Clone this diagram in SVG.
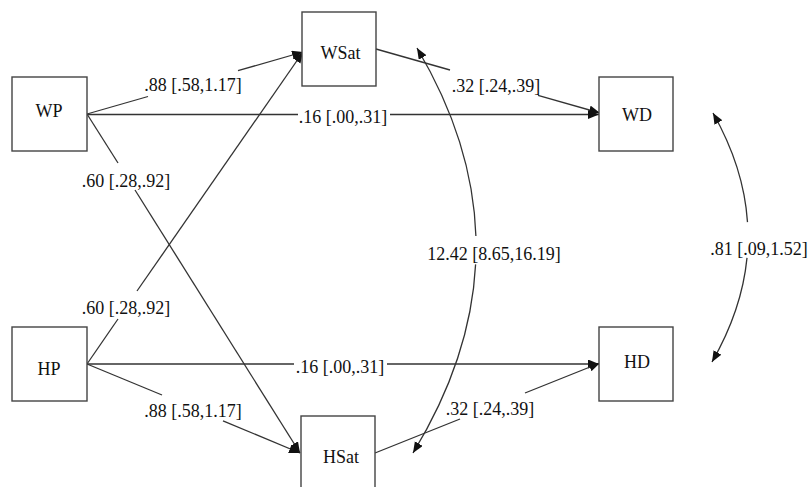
<svg xmlns="http://www.w3.org/2000/svg" width="811" height="487" viewBox="0 0 811 487">
<style>
.box{fill:#fff;stroke:#444;stroke-width:1.4}
text{font-family:"Liberation Serif","Times New Roman",serif;font-size:18px;fill:#111;text-anchor:middle}
.ln{fill:none;stroke:#333;stroke-width:1.3}
.arr{marker-end:url(#ah)}
.arrs{marker-start:url(#ah)}
</style>
<defs>
<marker id="ah" markerUnits="userSpaceOnUse" markerWidth="12" markerHeight="10" refX="11" refY="4.5" orient="auto-start-reverse">
<path d="M0,0 L11,4.5 L0,9 z" fill="#111"/>
</marker>
</defs>
<g id="connectors">
<path class="ln" d="M87,114 L148,96.5"/>
<path class="ln arr" d="M238,70.7 L303,52"/>
<path class="ln" d="M87,114.5 L298,114.5"/>
<path class="ln arr" d="M390,114.5 L599,114.5"/>
<path class="ln" d="M87,114 L118,163"/>
<path class="ln arr" d="M135,190 L300,453"/>
<path class="ln" d="M87,364 L118,319"/>
<path class="ln arr" d="M137,291 L303,52"/>
<path class="ln" d="M87,364 L162,395"/>
<path class="ln arr" d="M223,420.8 L300,453"/>
<path class="ln" d="M87,364 L294,364"/>
<path class="ln arr" d="M387,364 L599,364"/>
<path class="ln" d="M376,49 L450,70"/>
<path class="ln arr" d="M538,95.3 L600,113"/>
<path class="ln" d="M375,453 L460,419"/>
<path class="ln arr" d="M525,393 L600,363"/>
<path class="ln arrs" d="M417,48 Q472.8,141.9 475.9,236.1"/>
<path class="ln arr" d="M475.6,264.4 Q470.7,358.6 413,453"/>
<path class="ln arrs" d="M713,113 Q743.9,167.5 747.5,222.1"/>
<path class="ln arr" d="M747,257.9 Q741.9,310 712,362"/>
<text x="193" y="91">.88 [.58,1.17]</text>
<text x="343" y="123">.16 [.00,.31]</text>
<text x="126" y="187">.60 [.28,.92]</text>
<text x="126" y="314">.60 [.28,.92]</text>
<text x="193" y="417">.88 [.58,1.17]</text>
<text x="340" y="373">.16 [.00,.31]</text>
<text x="496" y="92">.32 [.24,.39]</text>
<text x="490" y="415">.32 [.24,.39]</text>
<text x="494" y="260">12.42 [8.65,16.19]</text>
<text x="759" y="255">.81 [.09,1.52]</text>
</g>
<g id="WP"><rect class="box" x="12" y="77" width="75" height="74"/><text x="49" y="117">WP</text></g>
<g id="WSat"><rect class="box" x="302" y="12" width="74" height="74"/><text x="340.5" y="59">WSat</text></g>
<g id="WD"><rect class="box" x="599" y="77" width="74" height="74"/><text x="637" y="121">WD</text></g>
<g id="HP"><rect class="box" x="12" y="327" width="75" height="74"/><text x="49" y="375">HP</text></g>
<g id="HSat"><rect class="box" x="301" y="416" width="74" height="74"/><text x="341" y="463">HSat</text></g>
<g id="HD"><rect class="box" x="599" y="327" width="74" height="74"/><text x="637" y="368">HD</text></g>
</svg>
